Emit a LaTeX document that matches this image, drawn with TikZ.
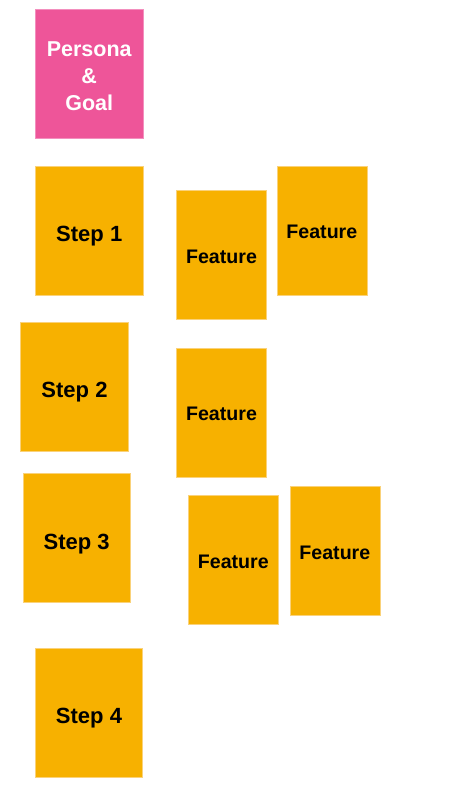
\documentclass[tikz,border=0pt]{standalone}
\usepackage{fontspec}
\setmainfont{Liberation Sans}
\definecolor{cardorange}{HTML}{F7B100}
\definecolor{cardorangeedge}{HTML}{FAD27A}
\definecolor{cardpink}{HTML}{EE5599}
\definecolor{cardpinkedge}{HTML}{F38FBE}
\tikzset{
  card/.style={rectangle, inner sep=0pt, line width=0.6pt, align=center},
  stepcard/.style={card, fill=cardorange, draw=cardorangeedge, minimum width=107.5pt, minimum height=129pt, text=black,
    font=\fontsize{22}{27}\selectfont\bfseries, text height=22pt, text depth=0pt},
  featcard/.style={card, fill=cardorange, draw=cardorangeedge, minimum width=90pt, minimum height=129pt, text=black,
    font=\fontsize{19.6}{24}\selectfont\bfseries, text height=16.6pt, text depth=0pt},
  goalcard/.style={card, fill=cardpink, draw=cardpinkedge, minimum width=107.5pt, minimum height=129pt, text=white,
    font=\fontsize{21.5}{27}\selectfont\bfseries, text height=74pt, text depth=0pt},
}
\begin{document}
\begin{tikzpicture}[x=1pt,y=-1pt]
\useasboundingbox (0,0) rectangle (457,791);
\node[goalcard] (goal) at (89.25,74) {Persona\\\&\\Goal};
\node[stepcard] (s1) at (89.25,230.5) {Step 1};
\node[stepcard] (s2) at (74.5,386.5) {Step 2};
\node[stepcard] (s3) at (76.65,538.2) {Step 3};
\node[stepcard] (s4) at (89,712.6) {Step 4};
\node[featcard] (fa) at (221.5,254.8) {Feature};
\node[featcard] (fb) at (321.85,230.35) {Feature};
\node[featcard] (fc) at (221.5,412.5) {Feature};
\node[featcard] (fd) at (233.3,560) {Feature};
\node[featcard] (fe) at (334.85,551) {Feature};
\end{tikzpicture}
\end{document}
